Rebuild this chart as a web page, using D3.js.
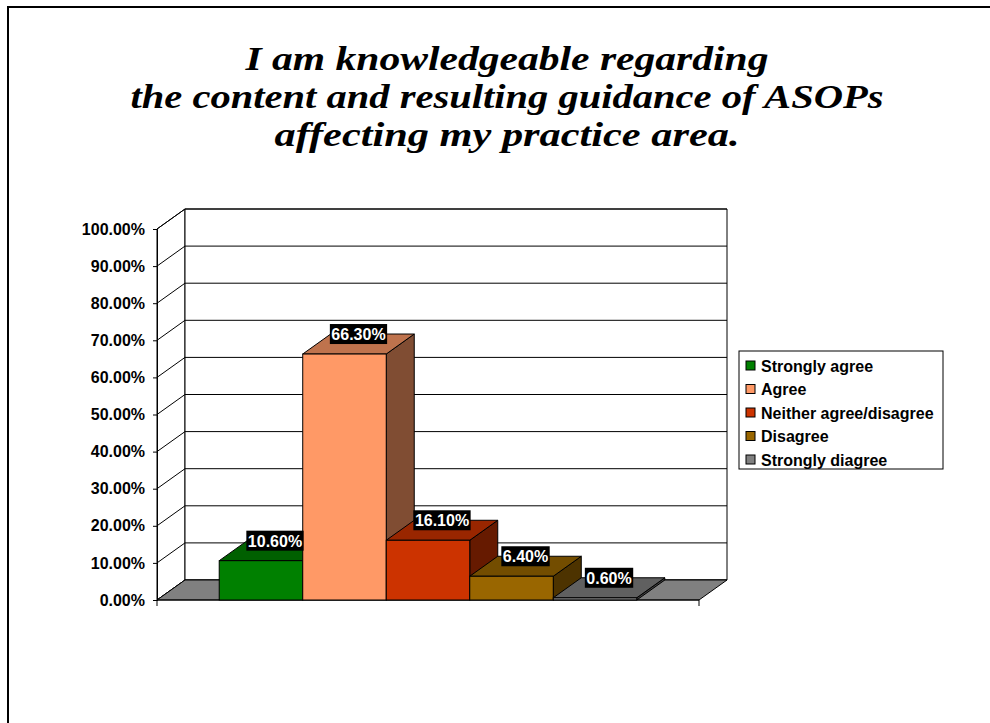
<!DOCTYPE html>
<html>
<head>
	<meta charset="UTF-8" />
	<title>ASOPs knowledge</title>
	<script src="https://d3js.org/d3.v7.min.js"></script>
	<style>
		body { margin: 0; background: #fff; }
	</style>
</head>
<body>
	<svg id="chart" style="width:990px; height:723px; display:block"></svg>

	<script type="text/javascript">
	// data
	var titleLines = ["I am knowledgeable regarding", "the content and resulting guidance of ASOPs", "affecting my practice area."]
	var categories = ["Strongly agree", "Agree", "Neither agree/disagree", "Disagree", "Strongly diagree"]
	var values = [0.106, 0.663, 0.161, 0.064, 0.006]
	var colors = ["#008000", "#FF9966", "#CC3300", "#996600", "#808080"]
	var yTicks = [0, 0.1, 0.2, 0.3, 0.4, 0.5, 0.6, 0.7, 0.8, 0.9, 1.0]

	// layout
	var dx = 28, dy = -20
	var x0 = 157, x1 = 699, yBase = 600, yTop = 229
	var font = "'Liberation Sans', Arial, sans-serif"

	var svg = d3.select("#chart")

	// frame
	svg.append("path")
		.attr("d", "M8,723 L8,7 L990,7")
		.attr("fill", "none")
		.attr("stroke", "#000")
		.attr("stroke-width", 2)

	// title
	var titleWidths = [523, 753, 465]
	svg.append("g").selectAll("text")
		.data(titleLines)
		.enter()
		.append("text")
		.attr("x", 507)
		.attr("y", (d, i) => 70 + i * 38)
		.attr("text-anchor", "middle")
		.attr("textLength", (d, i) => titleWidths[i])
		.attr("lengthAdjust", "spacingAndGlyphs")
		.style("font-family", "'Liberation Serif', 'DejaVu Serif', serif")
		.style("font-style", "italic")
		.style("font-weight", "bold")
		.style("font-size", "34px")
		.text(d => d)

	// scales
	var y = d3.scaleLinear().domain([0, 1]).range([yBase, yTop])
	var x = d3.scaleBand().domain(categories).range([x0, x1]).paddingInner(0).paddingOuter(0.745)
	var shade = (c, k) => { var r = d3.rgb(c); return d3.rgb(r.r * k, r.g * k, r.b * k).formatHex() }

	var g = svg.append("g")

	// side wall and back wall
	g.append("polygon")
		.attr("points", [[x0, yBase], [x0, yTop], [x0 + dx, yTop + dy], [x0 + dx, yBase + dy]].join(" "))
		.attr("fill", "#fff").attr("stroke", "#000")
	g.append("polygon")
		.attr("points", [[x0 + dx, yBase + dy], [x0 + dx, yTop + dy], [x1 + dx, yTop + dy], [x1 + dx, yBase + dy]].join(" "))
		.attr("fill", "#fff").attr("stroke", "#000")

	// gridlines
	g.selectAll(".grid")
		.data(yTicks)
		.enter()
		.append("path")
		.attr("class", "grid")
		.attr("d", d => "M" + x0 + "," + y(d) + " L" + (x0 + dx) + "," + (y(d) + dy) + " L" + (x1 + dx) + "," + (y(d) + dy))
		.attr("fill", "none")
		.attr("stroke", "#000")
		.attr("stroke-width", 1)

	// floor
	g.append("polygon")
		.attr("points", [[x0, yBase], [x1, yBase], [x1 + dx, yBase + dy], [x0 + dx, yBase + dy]].join(" "))
		.attr("fill", "#808080").attr("stroke", "#000")

	// y axis
	var yAxis = d3.axisLeft(y).tickValues(yTicks).tickFormat(d3.format(".2%")).tickSizeOuter(0).tickSize(4)
	var ya = g.append("g").attr("transform", "translate(" + x0 + ",0)").call(yAxis)
	ya.select(".domain").attr("stroke", "#000")
	ya.selectAll("text")
		.attr("x", -12)
		.style("font-family", font)
		.style("font-weight", "bold")
		.style("font-size", "16px")
		.attr("fill", "#000")

	// category axis line with end ticks
	g.append("path")
		.attr("d", "M" + x0 + "," + (yBase + 6) + " L" + x0 + "," + yBase + " L" + x1 + "," + yBase + " L" + x1 + "," + (yBase + 6))
		.attr("fill", "none")
		.attr("stroke", "#000")

	// bars (drawn left to right)
	var bars = g.selectAll(".bar")
		.data(categories)
		.enter()
		.append("g")
		.attr("class", "bar")

	bars.each(function(c, i) {
		var b = d3.select(this)
		var l = x(c), r = x(c) + x.bandwidth(), t = y(values[i]), col = colors[i]
		// side
		b.append("polygon")
			.attr("points", [[r, yBase], [r, t], [r + dx, t + dy], [r + dx, yBase + dy]].join(" "))
			.attr("fill", shade(col, 0.5)).attr("stroke", "#000")
		// top
		b.append("polygon")
			.attr("points", [[l, t], [r, t], [r + dx, t + dy], [l + dx, t + dy]].join(" "))
			.attr("fill", shade(col, 0.75)).attr("stroke", "#000")
		// front
		b.append("rect")
			.attr("x", l).attr("y", t)
			.attr("width", r - l).attr("height", yBase - t)
			.attr("fill", col).attr("stroke", "#000")
	})

	// data labels
	var labels = g.selectAll(".label")
		.data(categories)
		.enter()
		.append("g")
		.attr("class", "label")
		.attr("transform", (c, i) => "translate(" + (x(c) + x.bandwidth() / 2 + dx / 2) + "," + (y(values[i]) + dy / 2) + ")")

	labels.append("rect")
		.attr("fill", "#000")
	labels.append("text")
		.attr("text-anchor", "middle")
		.attr("y", -4)
		.attr("fill", "#fff")
		.style("font-family", font)
		.style("font-weight", "bold")
		.style("font-size", "16px")
		.text((c, i) => d3.format(".2%")(values[i]))
	labels.each(function() {
		var w = d3.select(this).select("text").node().getComputedTextLength() + 3
		d3.select(this).select("rect")
			.attr("x", -w / 2).attr("y", -20).attr("width", w).attr("height", 20)
	})

	// legend
	var legend = svg.append("g").attr("transform", "translate(739,351)")
	legend.append("rect")
		.attr("width", 204).attr("height", 118)
		.attr("fill", "#fff").attr("stroke", "#000")
	var items = legend.selectAll(".item")
		.data(categories)
		.enter()
		.append("g")
		.attr("class", "item")
		.attr("transform", (d, i) => "translate(0," + (14.5 + i * 23.5) + ")")
	items.append("rect")
		.attr("x", 7).attr("y", -4.5)
		.attr("width", 9).attr("height", 9)
		.attr("fill", (d, i) => colors[i])
		.attr("stroke", "#000")
	items.append("text")
		.attr("x", 22).attr("y", 6)
		.style("font-family", font)
		.style("font-weight", "bold")
		.style("font-size", "16px")
		.text(d => d)
	</script>
</body>
</html>
